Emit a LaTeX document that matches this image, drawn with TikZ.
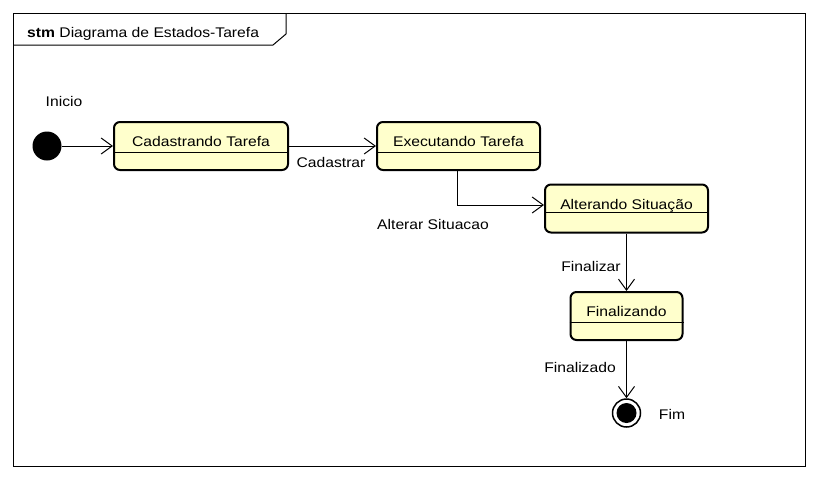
\documentclass[tikz,border=0pt]{standalone}
\usepackage{fontspec}
\setmainfont{Liberation Sans}[FakeStretch=1.12]
\usetikzlibrary{arrows.meta}
\definecolor{statefill}{HTML}{FFFFCC}
\begin{document}
\begin{tikzpicture}[x=1pt,y=-1pt,font=\fontsize{14}{16}\selectfont,
  statebox/.style={draw, fill=statefill, rounded corners=6pt, line width=2pt,
    minimum height=48pt, inner sep=0pt, text height=10pt, text depth=9pt},
  divider/.style={line width=1pt},
  arr/.style={-{Straight Barb[length=11pt,width=16pt,line width=1pt]}, line width=1pt},
  lbl/.style={inner sep=1pt}]
\fill[white] (0,0) rectangle (818,480);
\useasboundingbox (0,0) rectangle (818,480);
% frame
\draw[line width=1pt] (13,13) rectangle (805,466);
\draw[line width=1pt] (13,45) -- (273,45) -- (286,34) -- (286,13);
\node[anchor=base west, inner sep=0pt] (title) at (27,37) {\textbf{stm} Diagrama de Estados-Tarefa};
% states
\node[statebox, minimum width=174pt] (cad) at (201,146) {Cadastrando Tarefa};
\draw[divider] ([yshift=-31pt]cad.north west) -- ([yshift=-31pt]cad.north east);
\node[statebox, minimum width=163pt] (exe) at (458.5,146) {Executando Tarefa};
\draw[divider] ([yshift=-31pt]exe.north west) -- ([yshift=-31pt]exe.north east);
\node[statebox, minimum width=163pt] (alt) at (626.5,208.5) {Alterando Situação};
\draw[divider] ([yshift=-29pt]alt.north west) -- ([yshift=-29pt]alt.north east);
\node[statebox, minimum width=112pt] (fin) at (626.5,316) {Finalizando};
\draw[divider] ([yshift=-31pt]fin.north west) -- ([yshift=-31pt]fin.north east);
% pseudo states
\node[circle, fill=black, minimum size=29pt, inner sep=0pt] (ini) at (47,146) {};
\node[circle, draw=black, fill=white, line width=1.5pt, minimum size=28pt, inner sep=0pt] (end) at (626.5,413) {};
\fill[black] (end.center) circle[radius=10pt];
% transitions
\draw[arr] (ini) -- (cad.west);
\draw[arr] (cad.east) -- (exe.west);
\draw[arr] ([xshift=-1.5pt]exe.south) |- ([yshift=3.5pt]alt.west);
\draw[arr] (alt.south) -- (fin.north);
\draw[arr] (fin.south) -- (end.north);
% labels
\node[lbl] (linicio) at (64,101) {Inicio};
\node[lbl] (lcad) at (331,162) {Cadastrar};
\node[lbl] (lalt) at (433,224) {Alterar Situacao};
\node[lbl] (lfinr) at (591,266) {Finalizar};
\node[lbl] (lfino) at (580,367) {Finalizado};
\node[lbl] (lfim) at (672,414) {Fim};
\end{tikzpicture}
\end{document}
